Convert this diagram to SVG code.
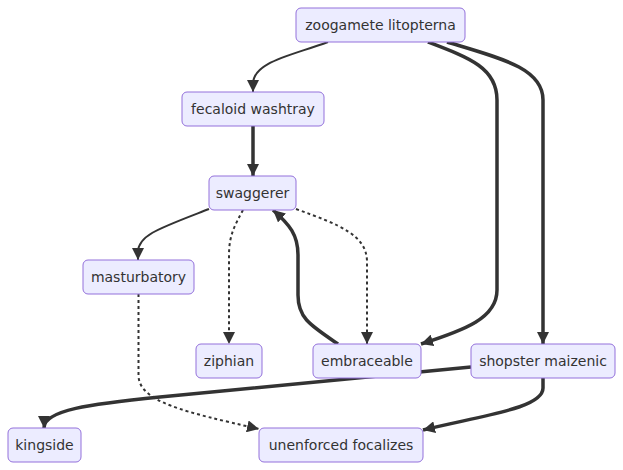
<svg xmlns="http://www.w3.org/2000/svg" width="623" height="470" viewBox="0 0 623 470">
<style>
.node rect{fill:#ECECFF;stroke:#9370DB;stroke-width:1}
.node text{font-family:"DejaVu Sans",Verdana,sans-serif;font-size:14px;fill:#333;text-anchor:middle;dominant-baseline:central}
.e{fill:none;stroke:#333;stroke-width:2}
.thick{stroke-width:3.5}
.dot{stroke-dasharray:3 3}
</style>
<defs>
<marker id="arr" viewBox="0 0 10 10" refX="10" refY="5" markerUnits="userSpaceOnUse" markerWidth="12" markerHeight="12" orient="auto">
<path d="M0,0 L10,5 L0,10 z" fill="#333"/>
</marker>
</defs>
<g id="edges">
<path class="e" d="M328,42 C290,56 253,62 253,84 L253,92" marker-end="url(#arr)"/>
<path class="e thick" d="M253,126 L253,176" marker-end="url(#arr)"/>
<path class="e thick" d="M428,42 C470,58 497,68 497,100 L497,290 C497,318 465,330 421,344" marker-end="url(#arr)"/>
<path class="e thick" d="M447,42 C500,58 543,68 543,100 L543,344" marker-end="url(#arr)"/>
<path class="e" d="M209,209 C160,228 138,235 138,252 L138,260" marker-end="url(#arr)"/>
<path class="e dot" d="M243,210 C235,225 229,235 229,255 L229,344" marker-end="url(#arr)"/>
<path class="e dot" d="M296,209 C340,225 367,235 367,262 L367,344" marker-end="url(#arr)"/>
<path class="e thick" d="M338,344 C310,325 298,318 298,295 L298,255 C298,235 290,225 273,210" marker-end="url(#arr)"/>
<path class="e dot" d="M138.5,294 L138.5,375 C138.5,402 185,412 259,429" marker-end="url(#arr)"/>
<path class="e thick" d="M471,367 L160,397 C90,404 44,410 44,428" marker-end="url(#arr)"/>
<path class="e thick" d="M543,378 L543,388 C543,408 485,415 423,430" marker-end="url(#arr)"/>
</g>
<g id="zoogamete" class="node"><rect x="296" y="8" width="169" height="34" rx="5"/><text x="380.5" y="25">zoogamete litopterna</text></g>
<g id="fecaloid" class="node"><rect x="182" y="92" width="142" height="34" rx="5"/><text x="253" y="109">fecaloid washtray</text></g>
<g id="swaggerer" class="node"><rect x="209" y="176" width="87" height="34" rx="5"/><text x="252.5" y="193">swaggerer</text></g>
<g id="masturbatory" class="node"><rect x="83" y="260" width="111" height="34" rx="5"/><text x="138.5" y="277">masturbatory</text></g>
<g id="ziphian" class="node"><rect x="196" y="344" width="66" height="34" rx="5"/><text x="229" y="361">ziphian</text></g>
<g id="embraceable" class="node"><rect x="313" y="344" width="108" height="34" rx="5"/><text x="367" y="361">embraceable</text></g>
<g id="shopster" class="node"><rect x="471" y="344" width="144" height="34" rx="5"/><text x="543" y="361">shopster maizenic</text></g>
<g id="kingside" class="node"><rect x="8" y="428" width="73" height="34" rx="5"/><text x="44.5" y="445">kingside</text></g>
<g id="unenforced" class="node"><rect x="259" y="428" width="164" height="34" rx="5"/><text x="341" y="445">unenforced focalizes</text></g>
</svg>
